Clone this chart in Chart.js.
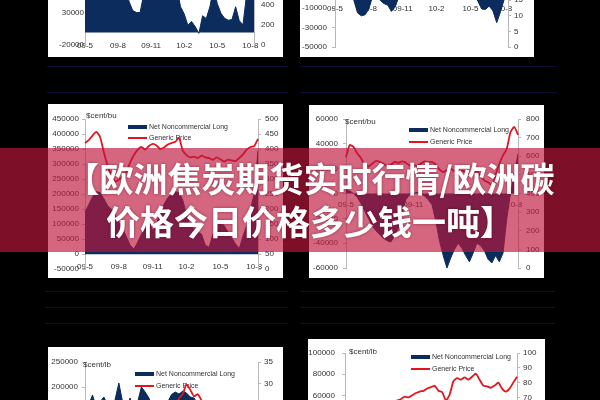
<!DOCTYPE html>
<html>
<head>
<meta charset="utf-8">
<script src="https://cdn.jsdelivr.net/npm/chart.js@4.4.1/dist/chart.umd.min.js"></script>
<style>
  html, body { margin: 0; padding: 0; background: #000; }
  body { width: 600px; height: 400px; position: relative; overflow: hidden; }
  .panel { position: absolute; background: #fff; }
  .panel canvas { display: block; }
  .scan { position: absolute; height: 1px; background: #0d0d33; }
  .banner { position: absolute; left: 0; top: 148px; width: 600px; height: 104px; background: rgba(189, 23, 61, 0.66); z-index: 10; }
  .banner div { position: absolute; left: 10px; width: 600px; text-align: center; color: #fff;
    font-family: "Noto Sans CJK SC", sans-serif; font-weight: bold; font-size: 34px; line-height: 43px;
    white-space: nowrap; text-shadow: 0 0 3px rgba(70, 0, 20, 0.5); }
</style>
</head>
<body>
<div class="scan" style="left:47px; top:66px; width:241px"></div>
<div class="scan" style="left:47px; top:92px; width:241px"></div>
<div class="scan" style="left:300px; top:66px; width:257px"></div>
<div class="scan" style="left:300px; top:92px; width:257px"></div>
<div class="scan" style="left:45px; top:291px; width:243px"></div>
<div class="scan" style="left:45px; top:307px; width:243px"></div>
<div class="scan" style="left:45px; top:323px; width:243px"></div>
<div class="scan" style="left:300px; top:291px; width:255px"></div>
<div class="scan" style="left:300px; top:307px; width:255px"></div>
<div class="scan" style="left:300px; top:323px; width:255px"></div>

<div class="banner">
  <div style="top:8px">【欧洲焦炭期货实时行情/欧洲碳</div>
  <div style="top:51px">价格今日价格多少钱一吨】</div>
</div>

<script>
// months shown on the x axis, three readings a month (last month only two)
const months = ['09-5', '09-6', '09-7', '09-8', '09-9', '09-10', '09-11', '09-12',
                '10-1', '10-2', '10-3', '10-4', '10-5', '10-6', '10-7', '10-8'];
const tickLabels = ['09-5', '09-8', '09-11', '10-2', '10-5', '10-8'];

// top left
const tlLong = [90000, 110000, 130000, 120000, 140000, 150000, 130000, 120000, 110000, 100000, 90000, 70000,
  48000, 34000, 31000, 31000, 60000, 80000, 100000, 120000, 140000, 130000, 110000, 100000,
  90000, 70000, 40000, 29000, 11000, 17000, 9000, -1500, 26000, 21500, 40000, 70000,
  45000, 30000, 22000, 19000, 20000, 40000, 18000, 12000, 60000, 100000, 150000];
const tlPrice = [700, 720, 760, 800, 780, 760, 740, 780, 820, 860, 840, 800,
  780, 760, 800, 840, 880, 900, 920, 880, 860, 900, 940, 960,
  980, 1000, 960, 920, 880, 860, 900, 940, 960, 1000, 1040, 1080,
  1100, 1060, 1020, 980, 1000, 1040, 1080, 1120, 1160, 1200, 1260];

// top right
const trLong = [20000, 15000, 10000, 5000, 2000, -2000, -15000, -18000, -17000, -11000, 2000, 5000,
  -2000, -5500, -7000, -13500, -9000, 2000, 10000, 15000, 20000, 25000, 30000, 35000,
  30000, 25000, 20000, 25000, 30000, 20000, 15000, 10000, 12000, 8000, 5000, 3000,
  2000, 3000, -3000, -11000, -11500, -8000, -13000, -25000, -14000, -1000, 15000];
const trPrice = [22, 23, 24, 25, 24, 23, 22, 23, 25, 27, 28, 29,
  30, 29, 28, 27, 28, 30, 31, 32, 31, 30, 29, 30,
  31, 32, 33, 34, 33, 32, 31, 30, 29, 28, 27, 26,
  25, 24, 23, 22, 22, 23, 25, 27, 29, 31, 34];

// middle left
const mlLong = [140000, 165000, 190000, 208000, 205000, 185000, 162000, 150000, 130000, 105000, 85000, 58000,
  30000, 17000, 40000, 66000, 90000, 109000, 78000, 100000, 140000, 165000, 188000, 200000,
  209000, 203000, 180000, 130000, 95000, 85000, 75000, 66000, 30000, 23000, 66000, 100000,
  108000, 95000, 75000, 55000, 35000, 18000, 60000, 95000, 150000, 200000, 345000];
const mlPrice = [420, 430, 445, 457, 440, 390, 345, 315, 292, 298, 310, 325,
  355, 380, 397, 407, 398, 410, 417, 412, 400, 405, 415, 420,
  424, 437, 395, 380, 372, 375, 370, 378, 372, 370, 364, 372,
  366, 358, 365, 362, 360, 370, 382, 398, 407, 410, 434];

// middle right
const mrLong = [3000, 2000, 0, -3000, -8000, -14000, -20000, -26000, -30000, -33000, -36000, -38000,
  -39000, -34000, -28000, -15000, -5000, -1000, 0, 1000, 0, -2000, -5000, -9000,
  -22000, -38000, -50000, -60000, -52000, -45000, -40000, -44000, -50000, -55000, -48000, -40000,
  -42000, -46000, -53000, -56000, -50000, -55000, -48000, -20000, 0, 15000, 32000];
const mrPrice = [595, 660, 650, 615, 590, 553, 545, 560, 575, 570, 560, 548,
  555, 570, 565, 572, 565, 550, 555, 548, 560, 572, 568, 570,
  555, 530, 515, 525, 532, 520, 510, 522, 515, 500, 510, 520,
  495, 470, 460, 446, 500, 560, 605, 640, 730, 757, 715];

// bottom left
const blLong = [150000, 165000, 184000, 160000, 170000, 180000, 165000, 155000, 175000, 208000, 170000, 160000,
  178000, 150000, 170000, 200000, 190000, 178000, 160000, 150000, 145000, 160000, 170000, 185000,
  190000, 186000, 192000, 188000, 180000, 178000, 165000, 150000, 140000, 130000, 120000, 110000,
  125000, 140000, 150000, 135000, 120000, 110000, 100000, 115000, 130000, 140000, 110000];
const blPrice = [16, 17, 17.5, 18, 17, 16.5, 17, 18, 19, 20, 19.5, 19,
  20, 21, 22, 21.5, 22, 23, 22.5, 23, 24, 23.5, 24, 24.5,
  25, 26.5, 27.5, 29.8, 28.5, 27, 27.5, 26, 24.5, 24, 23.5, 23,
  22, 22.5, 23, 22, 21, 20.5, 21, 22, 23, 24, 25];

// bottom right
const brLong = [30000, 32000, 35000, 38000, 40000, 42000, 45000, 43000, 40000, 38000, 35000, 37000,
  40000, 42000, 44000, 46000, 48000, 45000, 42000, 40000, 38000, 36000, 38000, 40000,
  42000, 45000, 48000, 50000, 47000, 44000, 42000, 40000, 38000, 40000, 43000, 46000,
  48000, 50000, 47000, 44000, 40000, 36000, 34000, 38000, 42000, 46000, 52000];
const brPrice = [55, 57, 58, 60, 59, 61, 62, 63, 62, 64, 65, 66,
  65, 67, 68, 69, 70.5, 70, 71.5, 73, 74, 74.5, 76, 77,
  77.8, 74.5, 73.5, 68, 72, 81, 83, 82, 83.5, 82, 84, 86,
  82, 78, 77.5, 76.5, 78, 80, 76, 74, 76, 80, 84];

const NAVY = '#0b2c5c';
const RED = '#e3151c';
const AXIS = '#b8b8b8';
const TEXT = '#333';

const weeks = months.flatMap(m => [m, m, m]).slice(0, tlLong.length);

Chart.defaults.font.family = '"Liberation Sans", Arial, sans-serif';
Chart.defaults.font.size = 8;
Chart.defaults.color = TEXT;
Chart.defaults.animation = false;

function xTick(i) {
  const m = weeks[i];
  return i % 3 === 0 && tickLabels.includes(m) ? m : '';
}

// unit text and the two-line legend drawn inside each panel
const panelDeco = {
  id: 'panelDeco',
  beforeDatasetsDraw(chart, args, opts) {
    const ctx = chart.ctx;
    const [long, price] = chart.data.datasets;
    const [lx, ly1, ly2] = opts.leg;
    ctx.save();
    ctx.textBaseline = 'middle';
    ctx.textAlign = 'left';
    ctx.fillStyle = TEXT;
    ctx.font = '8px "Liberation Sans", Arial, sans-serif';
    ctx.fillText(opts.unit, opts.unitAt[0], opts.unitAt[1]);
    ctx.fillStyle = long.backgroundColor;
    ctx.fillRect(lx, ly1 - 2, 19, 4);
    ctx.strokeStyle = price.borderColor;
    ctx.lineWidth = 2;
    ctx.beginPath();
    ctx.moveTo(lx, ly2);
    ctx.lineTo(lx + 19, ly2);
    ctx.stroke();
    ctx.fillStyle = TEXT;
    ctx.font = '7px "Liberation Sans", Arial, sans-serif';
    ctx.fillText(long.label, lx + 21, ly1);
    ctx.fillText(price.label, lx + 21, ly2);
    ctx.restore();
  }
};

const panels = [
  { left: 48, top: -130, w: 235, h: 187, plot: [37, 15, 206, 177], long: tlLong, price: tlPrice,
    y: [-20000, 230000, 50000], y1: [0, 1600, 200], yTick: [0, 1], y1Tick: [0, 7], xPad: 9,
    unit: '$cent/bu', unitAt: [38, 12], leg: [80, 23, 34] },
  { left: 300, top: -124, w: 234, h: 181, plot: [35, 15, 208, 171], long: trLong, price: trPrice,
    y: [-50000, 110000, 20000], y1: [0, 50, 5], yTick: [3, 5], y1Tick: [3, 3], xPad: 6,
    unit: '$cent/bu', unitAt: [36, 12], leg: [100, 23, 35] },
  { left: 48, top: 104, w: 235, h: 174, plot: [37, 15, 210, 166], long: mlLong, price: mlPrice,
    y: [-50000, 450000, 50000], y1: [0, 500, 50], yTick: [3, 3], y1Tick: [3, 4], xPad: 8,
    unit: '$cent/bu', unitAt: [38, 12], leg: [80, 23, 34] },
  { left: 309, top: 105, w: 235, h: 173, plot: [37, 14, 209, 163], long: mrLong, price: mrPrice,
    y: [-60000, 60000, 20000], y1: [0, 800, 100], yTick: [3, 5], y1Tick: [3, 5], xPad: 6,
    unit: '$cent/bu', unitAt: [36, 17], leg: [100, 25, 37] },
  { left: 48, top: 347, w: 235, h: 174, plot: [37, 15, 210, 166], long: blLong, price: blPrice,
    y: [-50000, 250000, 50000], y1: [0, 35, 5], yTick: [3, 4], y1Tick: [3, 3], xPad: 8,
    unit: '$cent/lb', unitAt: [35, 18], leg: [87, 27, 39] },
  { left: 308, top: 339, w: 237, h: 174, plot: [37, 14, 209, 165], long: brLong, price: brPrice,
    y: [-40000, 100000, 20000], y1: [0, 100, 10], yTick: [3, 7], y1Tick: [3, 3], xPad: 8,
    unit: '$cent/lb', unitAt: [41, 13], leg: [103, 18, 30] }
];

function yAxis(side, range, tick, width) {
  return {
    type: 'linear',
    position: side,
    min: range[0],
    max: range[1],
    ticks: { stepSize: range[2], padding: tick[1], autoSkip: false, callback: v => String(v) },
    grid: { display: true, drawOnChartArea: false, drawTicks: tick[0] > 0, tickLength: tick[0], color: AXIS },
    border: { display: true, color: AXIS },
    afterFit: s => { s.width = width; }
  };
}

panels.forEach(p => {
  const box = document.createElement('div');
  box.className = 'panel';
  box.style.left = p.left + 'px';
  box.style.top = p.top + 'px';
  box.style.width = p.w + 'px';
  box.style.height = p.h + 'px';
  const cv = document.createElement('canvas');
  cv.width = p.w;
  cv.height = p.h;
  box.appendChild(cv);
  document.body.appendChild(box);

  const [pl, pt, pr, pb] = p.plot;
  new Chart(cv, {
    type: 'line',
    data: {
      labels: weeks,
      datasets: [
        { label: 'Net Noncommercial Long', data: p.long, yAxisID: 'y', fill: 'origin',
          backgroundColor: NAVY, borderColor: NAVY, borderWidth: 1, pointRadius: 0, tension: 0, order: 2 },
        { label: 'Generic Price', data: p.price, yAxisID: 'y1', fill: false,
          borderColor: RED, borderWidth: 1.8, pointRadius: 0, tension: 0.2, order: 1 }
      ]
    },
    options: {
      responsive: false,
      devicePixelRatio: 1,
      layout: { padding: { left: 0, right: 0, top: pt, bottom: p.h - pb } },
      scales: {
        x: {
          type: 'category',
          position: { y: 0 },
          grid: { display: false, drawTicks: false },
          border: { display: false },
          ticks: { autoSkip: false, maxRotation: 0, minRotation: 0, padding: p.xPad,
                   callback: (v, i) => xTick(i) }
        },
        y: yAxis('left', p.y, p.yTick, pl),
        y1: yAxis('right', p.y1, p.y1Tick, p.w - pr)
      },
      plugins: {
        legend: { display: false },
        tooltip: { enabled: false },
        panelDeco: { unit: p.unit, unitAt: p.unitAt, leg: p.leg }
      }
    },
    plugins: [panelDeco]
  });
});
</script>
</body>
</html>
